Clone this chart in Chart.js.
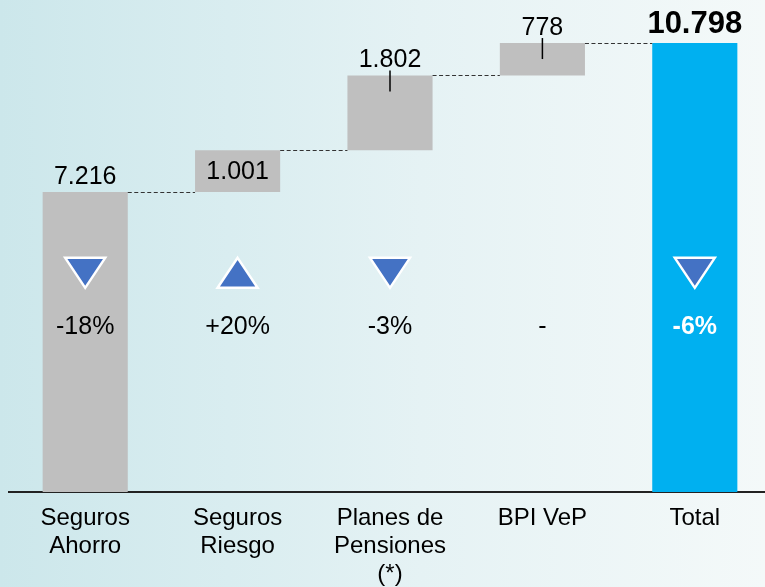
<!DOCTYPE html>
<html>
<head>
<meta charset="utf-8">
<script src="https://cdn.jsdelivr.net/npm/chart.js@4.4.1/dist/chart.umd.min.js"></script>
<style>
  html, body { margin: 0; padding: 0; overflow: hidden; }
  body {
    width: 765px; height: 587px;
    background: linear-gradient(90deg, #cce7eb 0%, #d9edf0 30%, #e5f2f4 55%, #f4f9f9 100%);
  }
  #wrap { width: 771px; height: 587px; position: relative; }
</style>
</head>
<body>
<div id="wrap"><canvas id="myChart"></canvas></div>
<script>
// waterfall data
const categories = [["Seguros", "Ahorro"], ["Seguros", "Riesgo"], ["Planes de", "Pensiones", "(*)"], ["BPI VeP"], ["Total"]];
const steps = [7216, 1001, 1802, 778];
const total = 10798;
const valueLabels = ["7.216", "1.001", "1.802", "778", "10.798"];
const changeLabels = ["-18%", "+20%", "-3%", "-", "-6%"];
const changeDir = [-1, 1, -1, 0, -1];

// floating bars built from the steps
const ranges = [];
let run = 0;
steps.forEach(v => { ranges.push([run, run + v]); run += v; });
ranges.push([0, total]);

const FONT = "'Liberation Sans', Arial, sans-serif";
const markerLevel = 5270;
const pctLevel = 3960;

const extras = {
  id: "extras",
  afterDatasetsDraw(chart) {
    const { ctx } = chart;
    const x = chart.scales.x, y = chart.scales.y;
    const meta = chart.getDatasetMeta(0);
    ctx.save();

    // dashed connectors
    ctx.strokeStyle = "#333";
    ctx.lineWidth = 1.2;
    ctx.setLineDash([4, 2.5]);
    for (let i = 0; i < ranges.length - 1; i++) {
      const a = meta.data[i], b = meta.data[i + 1];
      const yy = Math.round(y.getPixelForValue(ranges[i][1])) + 0.5;
      ctx.beginPath();
      ctx.moveTo(a.x + a.width / 2, yy);
      ctx.lineTo(b.x - b.width / 2, yy);
      ctx.stroke();
    }
    ctx.setLineDash([]);

    // value labels
    ctx.fillStyle = "#000";
    ctx.textAlign = "center";
    ctx.textBaseline = "alphabetic";
    ranges.forEach((r, i) => {
      const bar = meta.data[i];
      const top = y.getPixelForValue(r[1]);
      if (i === 1) {
        ctx.font = "25px " + FONT;
        ctx.textBaseline = "middle";
        ctx.fillText(valueLabels[i], bar.x, (top + y.getPixelForValue(r[0])) / 2 + 1);
        ctx.textBaseline = "alphabetic";
      } else if (i === 4) {
        ctx.font = "bold 31px " + FONT;
        ctx.fillText(valueLabels[i], bar.x, top - 10);
      } else {
        ctx.font = "25px " + FONT;
        ctx.fillText(valueLabels[i], bar.x, top - 8);
      }
      if (i === 2 || i === 3) {
        ctx.strokeStyle = "#000";
        ctx.lineWidth = 1.5;
        ctx.beginPath();
        ctx.moveTo(bar.x, top - 5);
        ctx.lineTo(bar.x, top + 16);
        ctx.stroke();
      }
    });

    // change markers and percentages
    const my = y.getPixelForValue(markerLevel);
    const py = y.getPixelForValue(pctLevel);
    changeDir.forEach((d, i) => {
      const cx = meta.data[i].x;
      if (d !== 0) {
        const hw = 20, hh = 15;
        ctx.beginPath();
        if (d < 0) {
          ctx.moveTo(cx - hw, my - hh);
          ctx.lineTo(cx + hw, my - hh);
          ctx.lineTo(cx, my + hh);
        } else {
          ctx.moveTo(cx, my - hh);
          ctx.lineTo(cx + hw, my + hh);
          ctx.lineTo(cx - hw, my + hh);
        }
        ctx.closePath();
        ctx.fillStyle = "#4472c4";
        ctx.fill();
        ctx.strokeStyle = "#ffffff";
        ctx.lineWidth = 2.5;
        ctx.stroke();
      }
      ctx.textBaseline = "middle";
      if (i === 4) {
        ctx.font = "bold 25px " + FONT;
        ctx.fillStyle = "#ffffff";
      } else {
        ctx.font = "25px " + FONT;
        ctx.fillStyle = "#000";
      }
      ctx.fillText(changeLabels[i], cx, py);
    });
    ctx.restore();
  }
};

const ctx = document.getElementById("myChart").getContext("2d");
const myChart = new Chart(ctx, {
  type: "bar",
  data: {
    labels: categories,
    datasets: [
      {
        data: ranges,
        backgroundColor: ["#bfbfbf", "#bfbfbf", "#bfbfbf", "#bfbfbf", "#00b0f0"],
        borderWidth: 0,
        borderSkipped: false,
        barPercentage: 0.5585,
        categoryPercentage: 1,
      },
    ],
  },
  options: {
    responsive: true,
    maintainAspectRatio: false,
    animation: false,
    layout: { padding: { left: 9, right: 0, top: 0, bottom: 0 } },
    scales: {
      x: {
        grid: { display: false, drawTicks: false },
        border: { display: true, color: "#222", width: 2 },
        ticks: {
          color: "#000",
          font: { family: FONT, size: 24, lineHeight: 1.15 },
          padding: 13,
          maxRotation: 0,
          autoSkip: false,
        },
        afterFit(scale) { scale.height = 95; },
      },
      y: {
        display: false,
        min: 0,
        max: 11832,
      },
    },
    plugins: {
      legend: { display: false },
      tooltip: { enabled: false },
    },
  },
  plugins: [extras],
});
</script>
</body>
</html>
